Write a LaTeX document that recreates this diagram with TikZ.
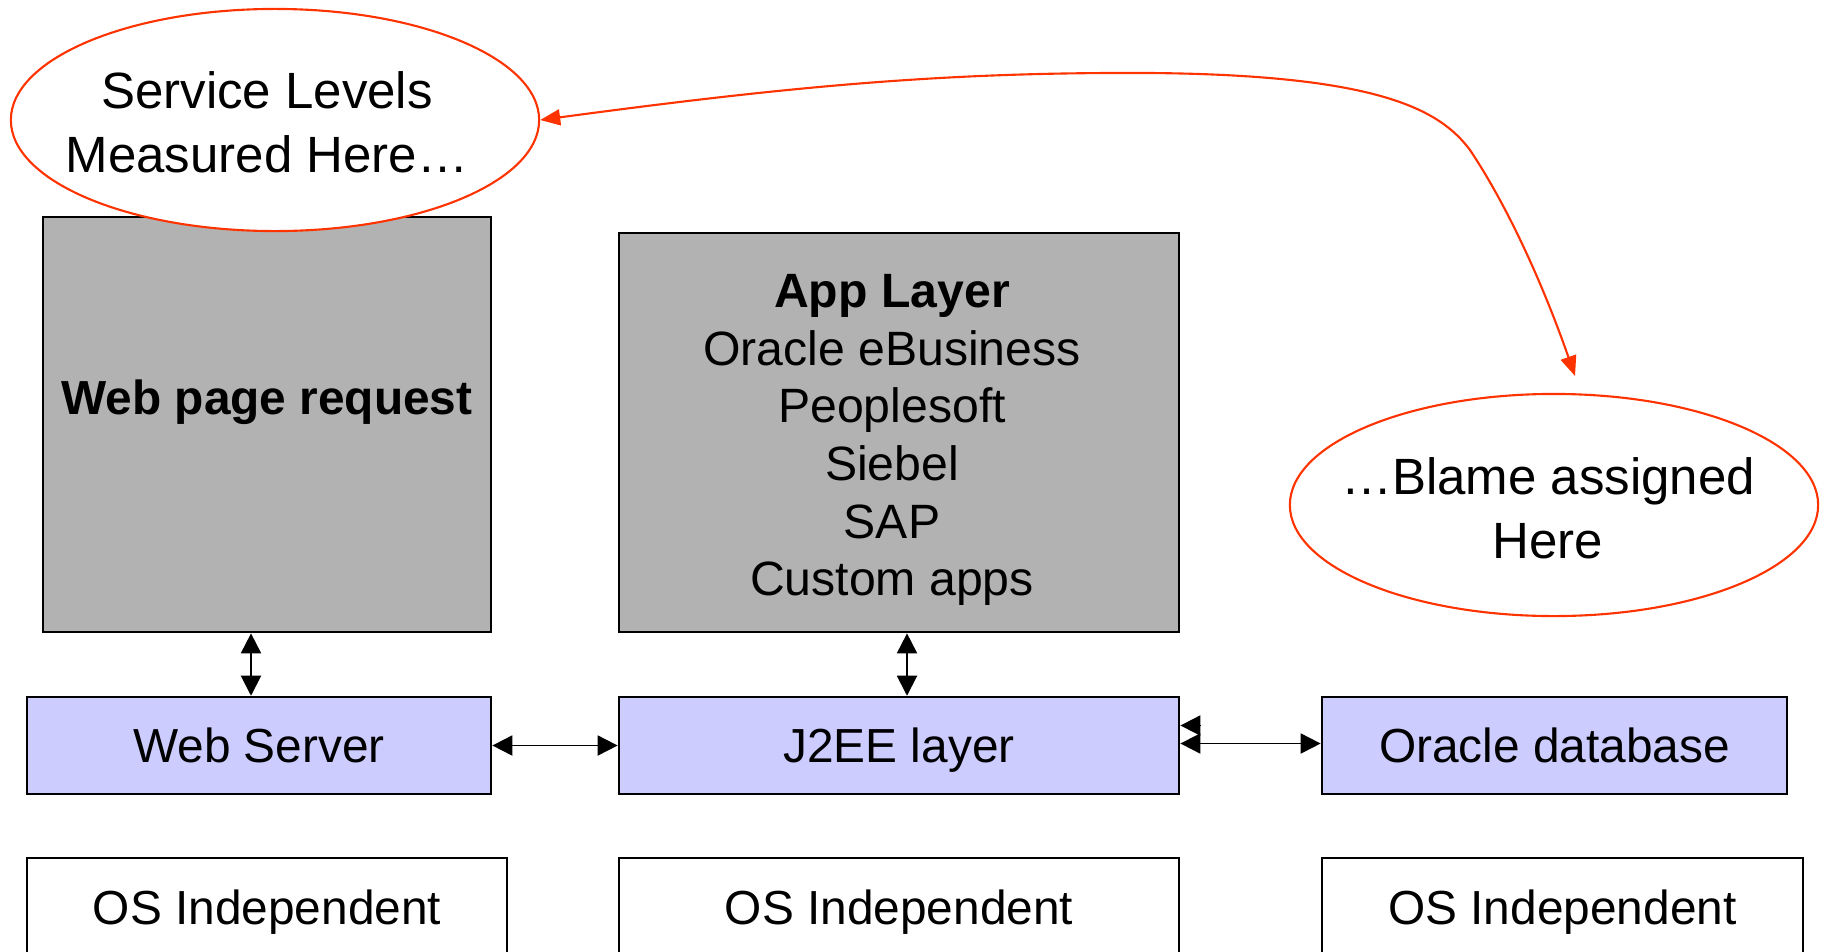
\documentclass[tikz,border=0pt]{standalone}
\usepackage{fontspec}
\setmainfont{Liberation Sans}
\usetikzlibrary{arrows.meta,shapes.geometric}
\definecolor{boxgrey}{RGB}{178,178,178}
\definecolor{layerblue}{RGB}{204,204,255}
\definecolor{callred}{RGB}{255,51,0}
\tikzset{
	layerbox/.style={draw, line width=0.7pt, fill=layerblue, minimum width=4.64cm, minimum height=0.97cm, text height=12.8pt, text depth=3pt, font=\fontsize{13.6}{16}\selectfont},
	osbox/.style={draw, line width=0.7pt, fill=white, minimum height=0.98cm, text height=12.8pt, text depth=3pt, font=\fontsize{13.6}{16}\selectfont},
	greybox/.style={draw, line width=0.7pt, fill=boxgrey},
	callout/.style={draw=callred, line width=0.6pt, fill=white, ellipse, inner sep=0pt, minimum width=5.28cm, minimum height=2.22cm},
	callouttext/.style={align=center, font=\fontsize{14.5}{18.3}\selectfont},
	link/.style={line width=0.55pt, {Triangle[length=0.2cm,width=0.2cm]}-{Triangle[length=0.2cm,width=0.2cm]}}
}
\begin{document}
\begin{tikzpicture}[x=0.01cm, y=-0.01cm]
	\clip (0,0) rectangle (1830,951);
	\fill[white] (0,0) rectangle (1830,951);
	\node[greybox, minimum width=4.48cm, minimum height=4.15cm] (webreq) at (267,424.5) {};
	\node[font=\bfseries\fontsize{13.6}{16}\selectfont] (webreqtxt) at (267,402) {Web page request};
	\node[greybox, minimum width=5.60cm, minimum height=3.99cm] (applayer) at (899,432.5) {};
	\node[align=center, font=\fontsize{13.7}{16.4}\selectfont] (apptxt) at (892,440) {\textbf{App Layer}\\Oracle eBusiness\\Peoplesoft\\Siebel\\SAP\\Custom apps};
	
	\node[layerbox] (webserver) at (259,745.5) {Web Server};
	\node[layerbox, minimum width=5.60cm] (jee) at (899,745.5) {J2EE layer};
	\node[layerbox, minimum width=4.65cm] (oradb) at (1554.5,745.5) {Oracle database};
	
	\node[osbox, minimum width=4.80cm] (os1) at (267,907) {OS Independent};
	\node[osbox, minimum width=5.60cm] (os2) at (899,907) {OS Independent};
	\node[osbox, minimum width=4.81cm] (os3) at (1562.5,907) {OS Independent};
	
	\node[callout] (levels) at (275,120) {};
	\node[callouttext] (levelstxt) at (267,122) {Service Levels\\Measured Here\dots};
	\node[callout] (blame) at (1554,505) {};
	\node[callouttext] (blametxt) at (1548,508) {\dots Blame assigned\\Here};
	\coordinate (blamein) at (1575,376);
	
	\foreach \u\v\dx in {webreq/webserver/-16, applayer/jee/8}
	{	\draw[link] ([xshift=\dx*0.01cm]\u.south) -- ([xshift=\dx*0.01cm]\u.south |- \v.north);
	}
	\foreach \u\v\dy in {webserver/jee/0, jee/oradb/2}
	{	\draw[link] ([yshift=\dy*0.01cm]\u.east) -- ([yshift=\dy*0.01cm]\v.west);
	}
	\draw[line width=0.55pt, -{Triangle[length=0.2cm,width=0.2cm]}] ([xshift=0.2cm,yshift=0.2cm]jee.east) -- ([yshift=0.2cm]jee.east);
	\draw[callred, line width=0.6pt, {Triangle[length=0.2cm,width=0.16cm]}-{Triangle[length=0.2cm,width=0.16cm]}]
		(levels.east) .. controls (800,85) and (950,72) .. (1150,73) .. controls (1380,75) and (1440,110) .. (1470,150) .. controls (1510,210) and (1545,290) .. (blamein);
\end{tikzpicture}
\end{document}
